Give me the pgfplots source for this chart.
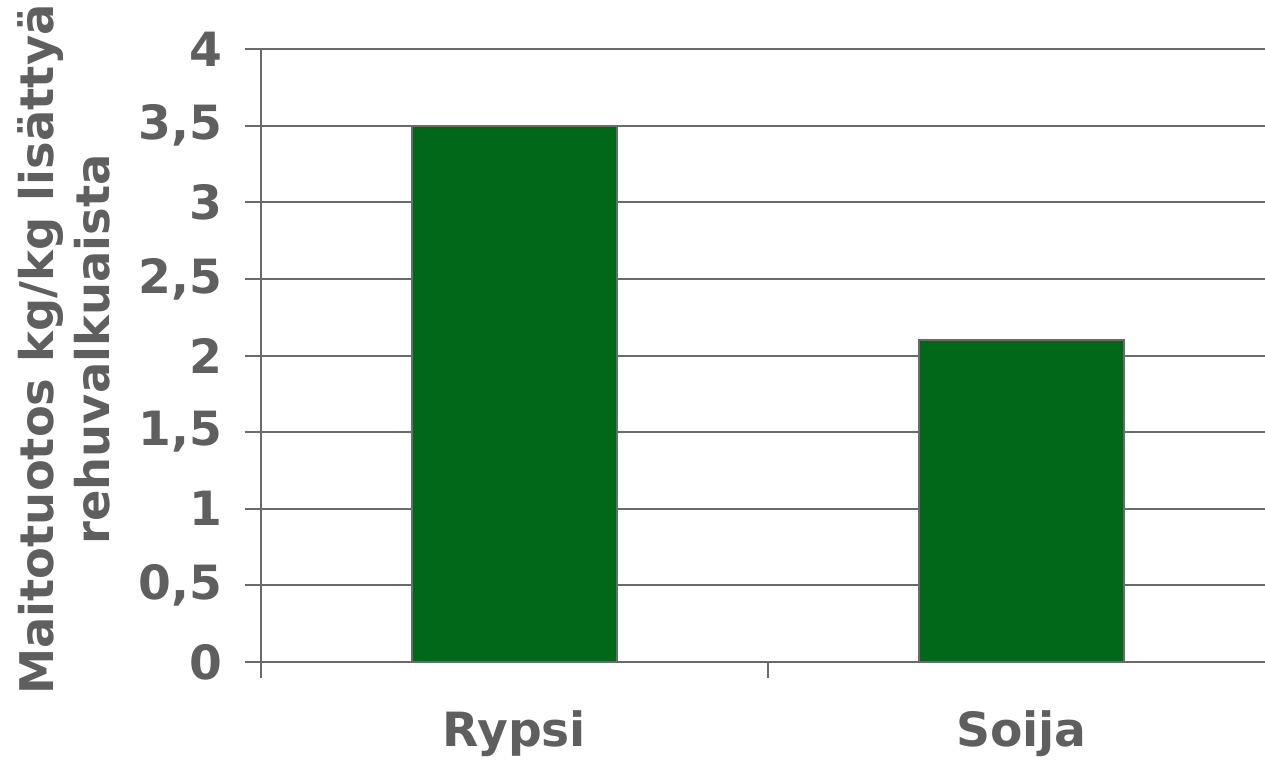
\documentclass[border=0pt]{standalone}
\usepackage{pgfplots}
\pgfplotsset{compat=1.18}
\usepackage{fontspec}
\setmainfont{DejaVu Sans}
\definecolor{txtgray}{HTML}{5F5F5F}
\definecolor{linegray}{HTML}{6A6A6A}
\definecolor{bargreen}{HTML}{006818}
\begin{document}
\begin{tikzpicture}
\begin{axis}[
  name=ax,
  scale only axis,
  width=507pt, height=306.5pt,
  xmin=-0.5, xmax=1.5,
  ymin=0, ymax=4,
  axis x line*=bottom, axis y line*=left,
  axis line style={linegray, line width=1pt},
  ytick={0,0.5,...,4},
  yticklabels={0,{0,5},1,{1,5},2,{2,5},3,{3,5},4},
  xtick={0,1},
  xticklabels={Rypsi,Soija},
  minor xtick={-0.5,0.5,1.5},
  major x tick style={draw=none},
  tick style={linegray, line width=1pt},
  tick align=outside,
  major tick length=8pt, minor tick length=8pt,
  ymajorgrids,
  grid style={linegray, line width=1pt},
  ticklabel style={font=\fontsize{23.6}{28}\bfseries, text=txtgray},
  yticklabel style={xshift=-8pt},
  xticklabel style={yshift=-13pt},
  ylabel={Maitotuotos kg/kg lisättyä\\rehuvalkuaista},
  ylabel style={font=\fontsize{23.2}{28}\selectfont\bfseries, text=txtgray, align=center, yshift=7pt, xshift=3pt},
  clip=false,
]
\addplot[ybar, bar width=0.404, fill=bargreen, draw=linegray, line width=1pt] coordinates {(0,3.5) (1,2.1)};
\end{axis}
\pgfresetboundingbox
\path ([shift={(-130.5pt,-48.5pt)}]ax.south west) rectangle ([shift={(-5pt,24.5pt)}]ax.north east);
\end{tikzpicture}
\end{document}
